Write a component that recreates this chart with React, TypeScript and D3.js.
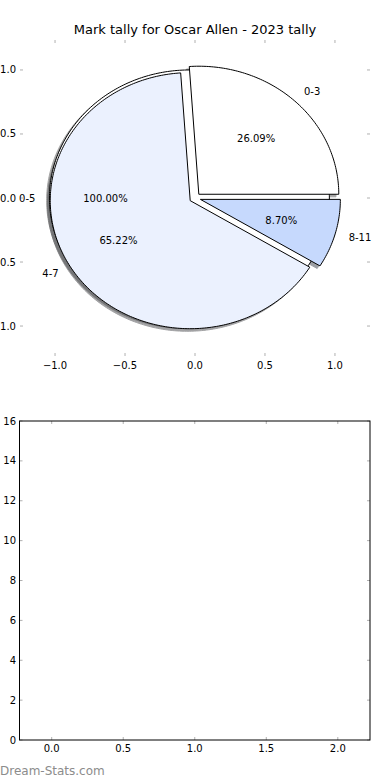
import React from 'react';
import * as d3 from 'd3';

// pie: mark tally by range
const labels = ['0-3', '4-7', '8-11'];
const counts = [6, 15, 2];
const colors = ['#ffffff', '#ebf1fe', '#c6d9fd'];

// second (overlaid) pie
const extraLabels = ['0-5'];
const extraCounts = [1];
const extraColors = ['#ffffff'];

const pieTicks = [-1.0, -0.5, 0.0, 0.5, 1.0];
const barXTicks = [0.0, 0.5, 1.0, 1.5, 2.0];
const barYTicks = [0, 2, 4, 6, 8, 10, 12, 14, 16];

const title = 'Mark tally for Oscar Allen - 2023 tally';
const EXPLODE = 0.04;
const FONT = 'DejaVu Sans, sans-serif';
const TICK = '#b0b0b0';

type Wedge = { label: string; value: number; color: string; t1: number; t2: number; frac: number };

const makeWedges = (ls: string[], vs: number[], cs: string[]): Wedge[] => {
  const total = d3.sum(vs);
  let t = 0;
  return vs.map((v, i) => {
    const frac = v / total;
    const w = { label: ls[i], value: v, color: cs[i], t1: t, t2: t + frac * 360, frac };
    t += frac * 360;
    return w;
  });
};

const shade = (c: string) => {
  const rgb = d3.rgb(c);
  return d3.rgb(rgb.r * 0.3, rgb.g * 0.3, rgb.b * 0.3).formatHex();
};

const App = () => {
  // top axes (pie)
  const px = d3.scaleLinear().domain([-1.236, 1.236]).range([22, 368]);
  const py = d3.scaleLinear().domain([-1.234, 1.234]).range([356, 40]);

  // bottom axes (empty bars)
  const bx = d3.scaleLinear().domain([-0.225, 2.225]).range([19.5, 370]);
  const by = d3.scaleLinear().domain([0, 16]).range([740, 421]);

  const line = d3.line<[number, number]>().x(d => px(d[0])).y(d => py(d[1]));

  const wedgePath = (w: Wedge, ox = 0, oy = 0) => {
    const mid = ((w.t1 + w.t2) / 2) * Math.PI / 180;
    const cx = EXPLODE * Math.cos(mid) + ox;
    const cy = EXPLODE * Math.sin(mid) + oy;
    const n = Math.max(2, Math.ceil(w.t2 - w.t1));
    const pts: [number, number][] = [];
    const full = w.t2 - w.t1 >= 359.999;
    if (!full) pts.push([cx, cy]);
    for (let i = 0; i <= n; i++) {
      const a = (w.t1 + (w.t2 - w.t1) * i / n) * Math.PI / 180;
      pts.push([cx + Math.cos(a), cy + Math.sin(a)]);
    }
    return line(pts) + 'Z';
  };

  const main = makeWedges(labels, counts, colors);
  const extra = makeWedges(extraLabels, extraCounts, extraColors);
  const all = [...extra, ...main];

  const textFor = (w: Wedge) => {
    const mid = ((w.t1 + w.t2) / 2) * Math.PI / 180;
    const c = Math.cos(mid), s = Math.sin(mid);
    const lx = EXPLODE * c + 1.1 * c;
    const ly = EXPLODE * s + 1.1 * s;
    const tx = EXPLODE * c + 0.6 * c;
    const ty = EXPLODE * s + 0.6 * s;
    return { lx, ly, tx, ty, anchor: lx > 0 ? 'start' : 'end' };
  };

  return (
    <svg width={390} height={780} style={{ position: 'absolute', left: 0, top: 0 }} fontFamily={FONT}>
      <rect width={390} height={780} fill="#ffffff" />
      <text x={195} y={34} textAnchor="middle" fontSize={13} fill="#000">{title}</text>

      {/* pie ticks */}
      {pieTicks.map(t => (
        <g key={'px' + t}>
          <line x1={px(t)} x2={px(t)} y1={40} y2={43} stroke={TICK} />
          <line x1={px(t)} x2={px(t)} y1={353} y2={356} stroke={TICK} />
          <text x={px(t)} y={369} textAnchor="middle" fontSize={10}>{d3.format('.1f')(t).replace('-', '\u2212')}</text>
        </g>
      ))}
      {pieTicks.map(t => (
        <g key={'py' + t}>
          <line x1={20} x2={23} y1={py(t)} y2={py(t)} stroke={TICK} />
          <line x1={367} x2={370} y1={py(t)} y2={py(t)} stroke={TICK} />
          <text x={16} y={py(t)} dy="0.35em" textAnchor="end" fontSize={10}>{d3.format('.1f')(t).replace('-', '\u2212')}</text>
        </g>
      ))}

      {/* shadows */}
      {all.map((w, i) => (
        <path key={'s' + i} d={wedgePath(w, -0.02, -0.02)} fill={shade(w.color)} stroke={shade(w.color)}
          strokeWidth={1} opacity={0.5} />
      ))}
      {/* wedges */}
      {all.map((w, i) => (
        <path key={'w' + i} d={wedgePath(w)} fill={w.color} stroke="#000" strokeWidth={1} strokeLinejoin="miter" />
      ))}
      {/* labels */}
      {all.map((w, i) => {
        const t = textFor(w);
        return (
          <g key={'t' + i} fontSize={10}>
            <text x={px(t.lx)} y={py(t.ly)} dy="0.35em" textAnchor={t.anchor}>{w.label}</text>
            <text x={px(t.tx)} y={py(t.ty)} dy="0.35em" textAnchor="middle">{d3.format('.2f')(w.frac * 100)}%</text>
          </g>
        );
      })}

      {/* bottom axes */}
      {barXTicks.map(t => (
        <g key={'bx' + t}>
          <line x1={bx(t)} x2={bx(t)} y1={421} y2={424} stroke={TICK} />
          <line x1={bx(t)} x2={bx(t)} y1={737} y2={740} stroke={TICK} />
          <text x={bx(t)} y={752} textAnchor="middle" fontSize={10}>{d3.format('.1f')(t)}</text>
        </g>
      ))}
      {barYTicks.map(t => (
        <g key={'by' + t}>
          <line x1={19.5} x2={22.5} y1={by(t)} y2={by(t)} stroke={TICK} />
          <line x1={367} x2={370} y1={by(t)} y2={by(t)} stroke={TICK} />
          <text x={16} y={by(t)} dy="0.35em" textAnchor="end" fontSize={10}>{t}</text>
        </g>
      ))}
      <rect x={bx(-0.225)} y={by(16)} width={bx(2.225) - bx(-0.225)} height={by(0) - by(16)}
        fill="none" stroke="#000" strokeWidth={1} />

      <text x={0} y={775} fontSize={12} fill="#8c8c8c">Dream-Stats.com</text>
    </svg>
  );
};

export default App;
